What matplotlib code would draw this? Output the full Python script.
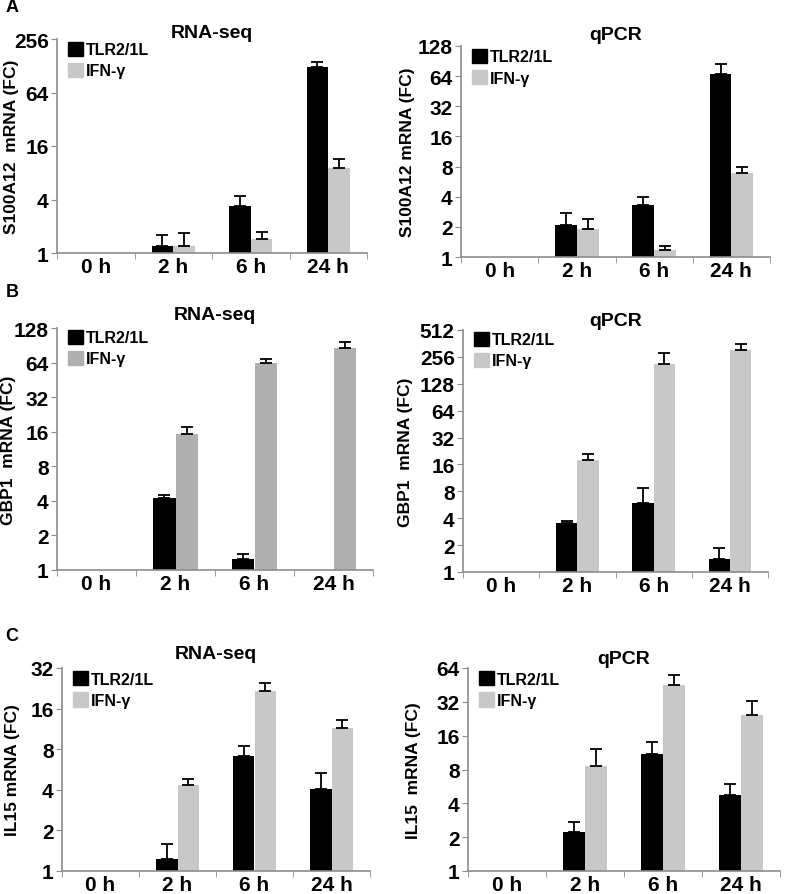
import numpy as np
import matplotlib
matplotlib.use("Agg")
import matplotlib.pyplot as plt
from matplotlib.patches import Patch

plt.rcParams['font.family'] = ['Liberation Sans', 'DejaVu Sans']
plt.rcParams['font.weight'] = 'bold'

# Data (fold change); nan = no bar
times = ['0 h', '2 h', '6 h', '24 h']
series_names = ['TLR2/1L', 'IFN-γ']

a_rna_tlr = [np.nan, 1.2, 3.35, 123]
a_rna_tlr_err = [0, 0.4, 1.05, 19]
a_rna_ifn = [np.nan, 1.2, 1.43, 9.0]
a_rna_ifn_err = [0, 0.47, 0.31, 2.4]

a_pcr_tlr = [np.nan, 2.1, 3.32, 68]
a_pcr_tlr_err = [0, 0.63, 0.65, 17]
a_pcr_ifn = [np.nan, 1.9, 1.18, 6.9]
a_pcr_ifn_err = [0, 0.48, 0.12, 1.1]

b_rna_tlr = [np.nan, 4.2, 1.24, np.nan]
b_rna_tlr_err = [0, 0.28, 0.13, 0]
b_rna_ifn = [np.nan, 15.4, 63, 85]
b_rna_ifn_err = [0, 2.2, 6, 11]

b_pcr_tlr = [np.nan, 3.56, 5.87, 1.39]
b_pcr_tlr_err = [0, 0.16, 2.8, 0.47]
b_pcr_ifn = [np.nan, 18.1, 212, 302]
b_pcr_ifn_err = [0, 3.0, 68, 57]

c_rna_tlr = [np.nan, 1.23, 7.17, 4.07]
c_rna_tlr_err = [0, 0.36, 1.28, 1.27]
c_rna_ifn = [np.nan, 4.32, 21.7, 11.4]
c_rna_ifn_err = [0, 0.51, 3.2, 1.7]

c_pcr_tlr = [np.nan, 2.21, 11.0, 4.77]
c_pcr_tlr_err = [0, 0.54, 3.1, 1.2]
c_pcr_ifn = [np.nan, 8.57, 45.6, 24.6]
c_pcr_ifn_err = [0, 3.5, 9.4, 7.8]

W, H = 785, 895
fig = plt.figure(figsize=(W / 100, H / 100), dpi=100)


def add_axes_px(x0, x1, ytop, ybot):
    return fig.add_axes([x0 / W, 1 - ybot / H, (x1 - x0) / W, (ybot - ytop) / H])


def panel(box, tlr, tlr_err, ifn, ifn_err, yticks, ylabel, label_x, title, title_y,
          ifn_color='#c8c8c8'):
    ax = add_axes_px(*box)
    x = np.arange(len(times))
    w = 0.28
    tlr = np.array(tlr, dtype=float)
    ifn = np.array(ifn, dtype=float)
    ax.bar(x - w / 2, tlr - 1, w, bottom=1, color='black', zorder=2)
    ax.bar(x + w / 2, ifn - 1, w, bottom=1, color=ifn_color, zorder=2)
    ax.errorbar(x - w / 2, tlr, yerr=[np.zeros(4), tlr_err], fmt='none',
                ecolor='black', elinewidth=1.3, capsize=4, capthick=1.3, zorder=3)
    ax.errorbar(x + w / 2, ifn, yerr=[np.zeros(4), ifn_err], fmt='none',
                ecolor='black', elinewidth=1.3, capsize=4, capthick=1.3, zorder=3)
    ax.set_yscale('log', base=2)
    ax.set_ylim(yticks[0], yticks[-1])
    ax.set_yticks(yticks)
    ax.set_yticklabels([str(t) for t in yticks], fontsize=15, fontweight='bold')
    ax.yaxis.set_minor_locator(plt.NullLocator())
    ax.set_xlim(-0.5, len(times) - 0.5)
    ax.set_xticks(x)
    ax.set_xticklabels(times, fontsize=15, fontweight='bold')
    ax.tick_params(axis='x', length=0, pad=3)
    ax.set_xticks(np.arange(len(times) + 1) - 0.5, minor=True)
    ax.tick_params(axis='x', which='minor', length=4, color='#8c8c8c', direction='out')
    ax.tick_params(axis='y', length=4, color='#8c8c8c', direction='out', pad=2)
    for s in ['top', 'right']:
        ax.spines[s].set_visible(False)
    for s in ['left', 'bottom']:
        ax.spines[s].set_color('#8c8c8c')
        ax.spines[s].set_linewidth(1.2)
    ax.set_ylabel(ylabel, fontsize=12.5, fontweight='bold')
    ax.yaxis.set_label_coords((label_x - box[0]) / (box[1] - box[0]), 0.5)
    handles = [Patch(color='black'), Patch(color=ifn_color)]
    ax.legend(handles, series_names, loc='upper left', bbox_to_anchor=(0.0, 1.04),
              frameon=False, handlelength=0.9, handleheight=1.0, handletextpad=0.2,
              labelspacing=0.35, borderaxespad=0.3, prop={'weight': 'bold', 'size': 11.5})
    xc = (box[0] + box[1]) / 2
    fig.text(xc / W, 1 - title_y / H, title, ha='center', va='center',
             fontsize=14, fontweight='bold')
    return ax


panel((57, 367, 40, 254), a_rna_tlr, a_rna_tlr_err, a_rna_ifn, a_rna_ifn_err,
      [1, 4, 16, 64, 256], 'S100A12  mRNA (FC)', 19, 'RNA-seq', 33)
panel((461, 770, 47, 258), a_pcr_tlr, a_pcr_tlr_err, a_pcr_ifn, a_pcr_ifn_err,
      [1, 2, 4, 8, 16, 32, 64, 128], 'S100A12 mRNA (FC)', 415, 'qPCR', 36)
panel((57, 373, 329, 571), b_rna_tlr, b_rna_tlr_err, b_rna_ifn, b_rna_ifn_err,
      [1, 2, 4, 8, 16, 32, 64, 128], 'GBP1  mRNA (FC)', 16, 'RNA-seq', 315,
      ifn_color='#b0b0b0')
panel((463, 768, 331, 573), b_pcr_tlr, b_pcr_tlr_err, b_pcr_ifn, b_pcr_ifn_err,
      [1, 2, 4, 8, 16, 32, 64, 128, 256, 512], 'GBP1  mRNA (FC)', 413, 'qPCR', 321)
panel((62, 370, 669, 872), c_rna_tlr, c_rna_tlr_err, c_rna_ifn, c_rna_ifn_err,
      [1, 2, 4, 8, 16, 32], 'IL15 mRNA (FC)', 20, 'RNA-seq', 655)
panel((468, 780, 669, 872), c_pcr_tlr, c_pcr_tlr_err, c_pcr_ifn, c_pcr_ifn_err,
      [1, 2, 4, 8, 16, 32, 64], 'IL15  mRNA (FC)', 421, 'qPCR', 660)

for letter, yy in [('A', 8), ('B', 293), ('C', 637)]:
    fig.text(12 / W, 1 - yy / H, letter, ha='center', va='center', fontsize=13, fontweight='bold')

fig.savefig('out.png', dpi=100)
